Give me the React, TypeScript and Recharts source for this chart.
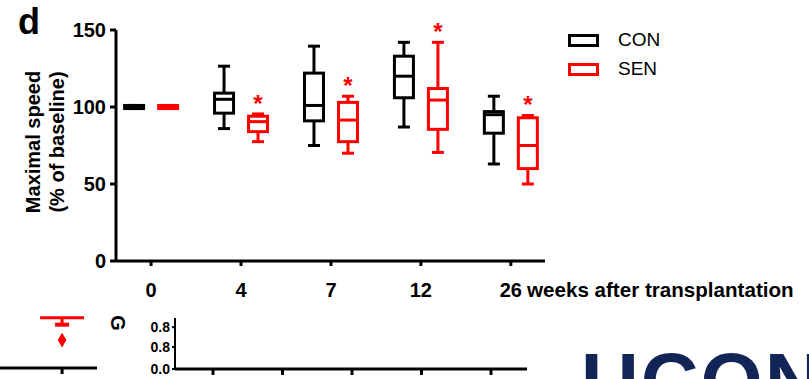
import React from 'react';
import { ComposedChart, Bar, XAxis, YAxis, Scatter } from 'recharts';

const weeks = ['0', '4', '7', '12', '26'];
const conMin = [99, 86, 75, 87, 63];
const conQ1 = [99, 96, 91, 106, 83];
const conMed = [100, 105, 101, 120, 95];
const conQ3 = [101, 109, 122, 133, 97];
const conMax = [101, 126.5, 139.5, 142, 107];
const senMin = [99, 77.5, 70, 70.5, 50];
const senQ1 = [99, 84, 77.5, 85.5, 60];
const senMed = [100, 90.5, 91.5, 104.5, 75];
const senQ3 = [101, 94, 103, 112, 93];
const senMax = [101, 95.5, 107, 142, 94.5];
const senSig = [false, true, true, true, true];
const yTicks = [0, 50, 100, 150];
const seriesNames = ['CON', 'SEN'];
const seriesColors = ['#000000', '#ff0000'];

// fragments of neighbouring panels visible at the bottom of the crop
const fragWhisker = [{ x: 0.64, y: 0.74 }];
const fragOutlier = [{ x: 0.64, y: 0.41 }];
const fragXTicks = [0.547, 1.547, 2.547, 3.547, 4.547];
const fragYTicks = [0, 0.43, 0.82];
const fragYLabels = ['0.0', '0.8', '0.8'];
const fragAxisData = [{ x: 0.547, y: 0 }, { x: 4.547, y: 0.82 }];

const data = weeks.map((w, i) => ({
  idx: i,
  week: w,
  conMin: conMin[i], conQ1: conQ1[i], conMed: conMed[i], conQ3: conQ3[i], conMax: conMax[i],
  senMin: senMin[i], senQ1: senQ1[i], senMed: senMed[i], senQ3: senQ3[i], senMax: senMax[i],
  senSig: senSig[i],
}));

const FONT = '"Liberation Sans", Arial, sans-serif';

const makeBox = (color: string, prefix: string) => (props: any) => {
  const { x, y, width, height, payload } = props;
  const lo = payload[prefix + 'Min'];
  const hi = payload[prefix + 'Max'];
  const top = Math.min(y, y + height);
  const bot = Math.max(y, y + height);
  const k = hi > lo ? (bot - top) / (hi - lo) : 0;
  const py = (v: number) => bot - (v - lo) * k;
  const cx = x + width / 2;
  const capHalf = width / 4 + 0.5;
  const sw = 3;
  const yq1 = py(payload[prefix + 'Q1']);
  const yq3 = py(payload[prefix + 'Q3']);
  const ymed = py(payload[prefix + 'Med']);
  const ymin = py(lo);
  const ymax = py(hi);
  const bx = x + sw / 2;
  const bw = width - sw;
  return (
    <g>
      <line x1={cx} x2={cx} y1={ymax} y2={yq3} stroke={color} strokeWidth={sw} />
      <line x1={cx} x2={cx} y1={yq1} y2={ymin} stroke={color} strokeWidth={sw} />
      <line x1={cx - capHalf} x2={cx + capHalf} y1={ymax} y2={ymax} stroke={color} strokeWidth={sw} />
      <line x1={cx - capHalf} x2={cx + capHalf} y1={ymin} y2={ymin} stroke={color} strokeWidth={sw} />
      <rect x={bx} y={yq3} width={bw} height={Math.max(yq1 - yq3, 0.01)} fill="#fff" stroke={color} strokeWidth={sw} />
      <line x1={bx} x2={bx + bw} y1={ymed} y2={ymed} stroke={color} strokeWidth={sw} />
      {payload[prefix + 'Sig'] ? (
        <text x={cx} y={ymax - 2} textAnchor="middle" fill={color} fontSize={24} fontWeight="bold" fontFamily={FONT}>*</text>
      ) : null}
    </g>
  );
};

const whiskerShape = (props: any) => {
  const { cx, cy } = props;
  return (
    <g>
      <line x1={cx - 22} x2={cx + 22} y1={cy} y2={cy} stroke="#ff0000" strokeWidth={3} />
      <line x1={cx} x2={cx} y1={cy} y2={cy + 8} stroke="#ff0000" strokeWidth={3} />
      <rect x={cx - 7} y={cy + 5} width={14} height={4} fill="#ff0000" />
    </g>
  );
};

const renderYLabel = () => {
  const cy = 142;
  return (
    <g fontFamily={FONT} fontWeight="bold" fontSize={20} fill="#000">
      <text x={40} y={cy} textAnchor="middle" transform={`rotate(-90, 40, ${cy})`}>Maximal speed</text>
      <text x={64} y={cy} textAnchor="middle" transform={`rotate(-90, 64, ${cy})`}>(% of baseline)</text>
    </g>
  );
};

const renderXLabel = (props: any) => {
  const vb = props.viewBox || { x: 116, y: 261, width: 429 };
  const x = vb.x + vb.width - 18;
  return (
    <text x={x} y={297} textAnchor="start" fontFamily={FONT} fontWeight="bold" fontSize={20.6} fill="#000">weeks after transplantation</text>
  );
};

export default function App() {
  return (
    <div style={{ position: 'absolute', left: 0, top: 0, width: 809, height: 379, background: '#fff', overflow: 'hidden' }}>
      <div style={{ position: 'absolute', left: 18, top: 2, fontFamily: FONT, fontWeight: 'bold', fontSize: 36, lineHeight: '40px', color: '#000' }}>d</div>
      <ComposedChart
        width={809}
        height={379}
        data={data}
        margin={{ top: 30, right: 264, bottom: 88, left: 56 }}
        barSize={22}
        barGap={12}
      >
        <XAxis
          type="number"
          dataKey="idx"
          domain={[-0.39, 4.38]}
          ticks={[0, 1, 2, 3, 4]}
          tickFormatter={(v: number) => weeks[v]}
          interval={0}
          height={30}
          stroke="#000"
          strokeWidth={3}
          tickSize={5}
          tickMargin={17}
          tick={{ fill: '#000', fontSize: 20, fontWeight: 'bold', fontFamily: FONT }}
          label={{ content: renderXLabel }}
        />
        <YAxis
          type="number"
          domain={[0, 150]}
          ticks={yTicks}
          width={60}
          stroke="#000"
          strokeWidth={3}
          tickSize={6}
          tickMargin={4}
          tick={{ fill: '#000', fontSize: 20, fontWeight: 'bold', fontFamily: FONT }}
          label={{ content: renderYLabel }}
        />
        <Bar dataKey={(d: any) => [d.conMin, d.conMax]} name={seriesNames[0]} shape={makeBox(seriesColors[0], 'con')} isAnimationActive={false} />
        <Bar dataKey={(d: any) => [d.senMin, d.senMax]} name={seriesNames[1]} shape={makeBox(seriesColors[1], 'sen')} isAnimationActive={false} />
      </ComposedChart>
      {seriesNames.map((n, i) => (
        <div key={n} style={{ position: 'absolute', left: 568, top: 29 + i * 29, display: 'flex', alignItems: 'center', fontFamily: FONT, fontSize: 19, color: '#000' }}>
          <div style={{ width: 25, height: 7, border: `3px solid ${seriesColors[i]}`, background: '#fff' }} />
          <span style={{ marginLeft: 19 }}>{n}</span>
        </div>
      ))}

      {/* bottom-left fragment of a neighbouring panel */}
      <div style={{ position: 'absolute', left: 0, top: 300 }}>
        <ComposedChart width={100} height={79} margin={{ top: 0, right: 3, bottom: 0, left: 0 }}>
          <XAxis type="number" dataKey="x" domain={[0, 1]} ticks={[0.64]} tickFormatter={() => ''} height={11} stroke="#000" strokeWidth={3} tickSize={6} />
          <YAxis type="number" dataKey="y" domain={[0, 1]} hide />
          <Scatter data={fragWhisker} fill="#ff0000" shape={whiskerShape} isAnimationActive={false} />
          <Scatter data={fragOutlier} fill="#ff0000" shape="diamond" isAnimationActive={false} />
        </ComposedChart>
      </div>
      <div style={{ position: 'absolute', left: 110, top: 313, fontFamily: FONT, fontWeight: 'bold', fontSize: 20, lineHeight: '20px', color: '#000', transform: 'rotate(90deg)' }}>G</div>

      {/* bottom-middle fragment axis */}
      <div style={{ position: 'absolute', left: 100, top: 300 }}>
        <ComposedChart width={440} height={79} data={fragAxisData} margin={{ top: 18, right: 13, bottom: 0, left: 0 }}>
          <XAxis type="number" dataKey="x" domain={[0, 5.065]} ticks={fragXTicks} tickFormatter={() => ''} interval={0} height={10} stroke="#000" strokeWidth={3} tickSize={6} tickMargin={0} />
          <YAxis
            type="number"
            dataKey="y"
            domain={[0, 1]}
            ticks={fragYTicks}
            interval={0}
            tickFormatter={(v: number) => fragYLabels[fragYTicks.indexOf(v)]}
            width={75}
            stroke="#000"
            strokeWidth={2}
            tickSize={3}
            tickMargin={2}
            tick={{ fill: '#000', fontSize: 14, fontWeight: 'bold', fontFamily: FONT }}
          />
          <Scatter dataKey="y" fill="none" shape={() => <g />} isAnimationActive={false} />
        </ComposedChart>
      </div>

      <div style={{ position: 'absolute', left: 581, top: 342, fontFamily: FONT, fontWeight: 'bold', fontSize: 80, lineHeight: '80px', color: '#132456', letterSpacing: 2 }}>UCONN</div>
    </div>
  );
}
